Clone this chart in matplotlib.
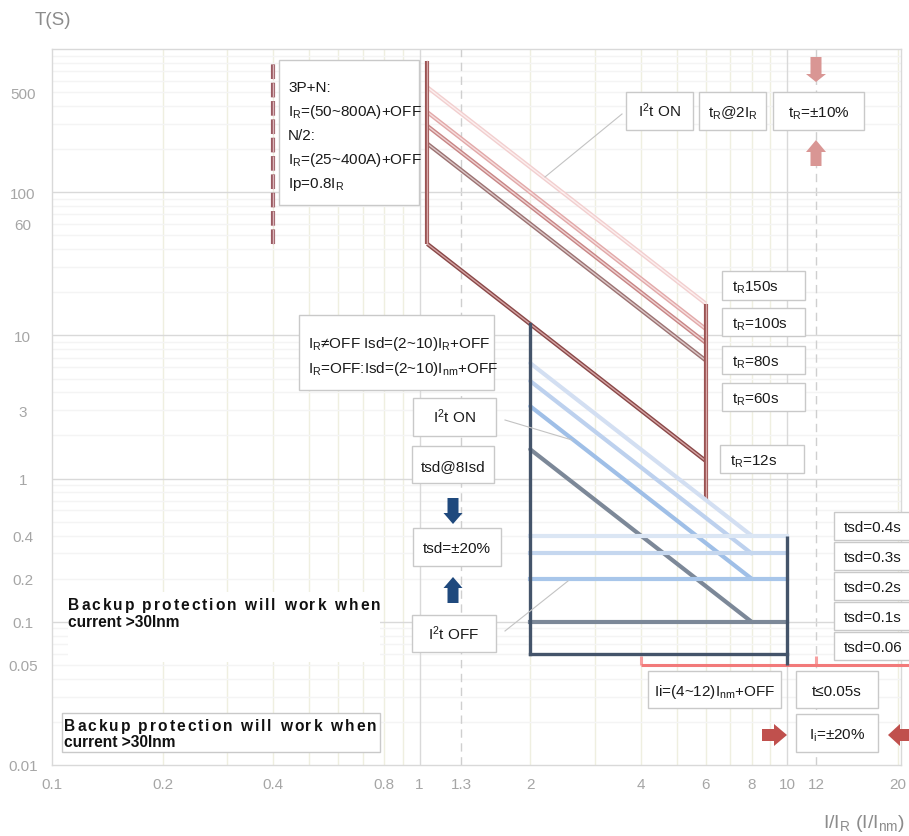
import numpy as np
import matplotlib
matplotlib.use('Agg')
import matplotlib.pyplot as plt
from matplotlib.patches import Rectangle, Polygon
from matplotlib.lines import Line2D
from matplotlib import font_manager, ft2font
from matplotlib.font_manager import FontProperties

plt.rcParams['font.family'] = ['Liberation Sans', 'DejaVu Sans']
plt.rcParams['mathtext.default'] = 'regular'

# ---------------- data ----------------
x_ticks = [0.1, 0.2, 0.4, 0.8, 1, 1.3, 2, 4, 6, 8, 10, 12, 20]
x_tick_labels = ['0.1', '0.2', '0.4', '0.8', '1', '1.3', '2', '4', '6', '8', '10', '12', '20']
y_ticks = [0.01, 0.05, 0.1, 0.2, 0.4, 1, 3, 10, 60, 100, 500]
y_tick_labels = ['0.01', '0.05', '0.1', '0.2', '0.4', '1', '3', '10', '60', '100', '500']

# long-time (I2t) curves: straight in log-log from x=1.05 to x=6
lt_names = ['150s', '100s', '80s', '60s', '12s']
lt_x = [1.05, 6]
lt_t_start = [540, 362, 290, 218, 43.5]
lt_t_end = [16.7, 11.1, 8.9, 6.7, 1.33]
lt_vert1_x = 1.05
lt_vert1_t = [43.5, 820]
lt_vert2_x = 6
lt_vert2_t = [0.71, 16.7]
neutral_x = 0.4
neutral_t = [43.5, 820]

# short-time curves
sd_tsd = [0.4, 0.3, 0.2, 0.1, 0.06]
sd_diag_x = [2, 8]
sd_diag_t_start = [6.4, 4.8, 3.2, 1.6]
sd_flat_x = [2, 10]
sd_left_x = 2
sd_left_t = [0.06, 12]
sd_right_x = 10
sd_right_t = [0.05, 0.4]

# instantaneous
inst_t = 0.05
inst_x = [4, 21.4]
inst_tick_x = [4, 12]
inst_tick_t = [0.05, 0.058]

# ---------------- figure ----------------
W, H = 909, 837
fig = plt.figure(figsize=(W / 100, H / 100), dpi=100)
ax = fig.add_axes([52 / W, 1 - 766 / H, (901 - 52) / W, (766 - 50) / H])
ax.set_xscale('log')
ax.set_yscale('log')
ax.set_xlim(0.1, 20.4)
ax.set_ylim(0.01, 1000)

# grid (manual)
for dec in [0.1, 1, 10]:
    for m in range(2, 10):
        v = dec * m
        if v <= 20.4:
            ax.axvline(v, color='#efefe0', lw=1, zorder=0)
for v in [1, 10]:
    ax.axvline(v, color='#d9d9d9', lw=1, zorder=0.1)
for v in [1.3, 12]:
    ax.axvline(v, color='#cfcfcf', lw=1, ls=(0, (6, 4)), zorder=0.1)
for dec in [0.01, 0.1, 1, 10, 100]:
    for m in range(2, 10):
        ax.axhline(dec * m, color='#f4f4f4', lw=1, zorder=0)
for v in [0.1, 1, 10, 100]:
    ax.axhline(v, color='#d9d9d9', lw=1, zorder=0.1)

for s in ax.spines.values():
    s.set_color('#d9d9d9')
    s.set_linewidth(1)

ax.set_xticks(x_ticks)
ax.set_xticklabels(x_tick_labels)
ax.set_yticks(y_ticks)
ax.set_yticklabels(y_tick_labels)
ax.minorticks_off()
ax.tick_params(axis='both', length=0, labelcolor='#a6a6a6', labelsize=11)
ax.tick_params(axis='x', pad=9)
ax.tick_params(axis='y', pad=21)
for t in ax.get_yticklabels():
    t.set_ha('center')

# long-time curves (double-line style)
lt_outer = ['#f2cfcf', '#e2a9a9', '#c88585', '#9c7272', '#8a4848']
lt_inner = ['#fcefef', '#f6dfdf', '#eed2d2', '#dcc8c8', '#d4a4a4']
for i in range(len(lt_names)):
    ax.plot(lt_x, [lt_t_start[i], lt_t_end[i]], color=lt_outer[i], lw=3.0, zorder=3, solid_capstyle='butt')
    ax.plot(lt_x, [lt_t_start[i], lt_t_end[i]], color=lt_inner[i], lw=1.0, zorder=3.1)
for xv, tv in [(lt_vert1_x, lt_vert1_t), (lt_vert2_x, lt_vert2_t)]:
    ax.plot([xv, xv], tv, color='#9a5252', lw=3.0, zorder=3.2, solid_capstyle='butt')
    ax.plot([xv, xv], tv, color='#d8a8a8', lw=1.0, zorder=3.3)
ax.plot([neutral_x, neutral_x], neutral_t, color='#9a5a62', lw=3.0, ls=(0, (3.5, 0.9)), zorder=3.2)
ax.plot([neutral_x, neutral_x], neutral_t, color='#dcb8bc', lw=1.0, ls=(0, (10.5, 2.7)), zorder=3.3)

# short-time curves
sd_flat_col = ['#dbe6f4', '#c5d7ef', '#a8c6ea', '#7c8898', '#44546a']
sd_diag_col = ['#d3dff2', '#bdd1ee', '#9fbfe7', '#7c8898']
for i in range(4):
    ax.plot(sd_diag_x, [sd_diag_t_start[i], sd_tsd[i]], color=sd_diag_col[i], lw=3.0, zorder=4,
            solid_capstyle='round')
for i in range(5):
    ax.plot(sd_flat_x, [sd_tsd[i], sd_tsd[i]], color=sd_flat_col[i], lw=3.0 if i < 4 else 2.4, zorder=4.1)
ax.plot([sd_left_x, sd_left_x], sd_left_t, color='#44546a', lw=2.4, zorder=4.2, solid_capstyle='projecting')
ax.plot([sd_right_x, sd_right_x], sd_right_t, color='#44546a', lw=2.4, zorder=4.2, solid_capstyle='butt')

# instantaneous
ax.plot(inst_x, [inst_t, inst_t], color='#f27a7a', lw=2.2, zorder=4.0, clip_on=False, solid_capstyle='butt')
for xv in inst_tick_x:
    ax.plot([xv, xv], inst_tick_t, color='#f7a0a0', lw=2.2, zorder=3.9, solid_capstyle='butt')


# ---------------- annotations (figure pixel layout) ----------------
def fx(px):
    return px / W


def fy(py):
    return 1 - py / H


def fig_box(x0, y0, x1, y1, ec='#c9c9c9', fc='white', lw=1.0):
    r = Rectangle((fx(x0), fy(y1)), (x1 - x0) / W, (y1 - y0) / H, transform=fig.transFigure,
                  fc=fc, ec=ec, lw=lw, zorder=5)
    fig.add_artist(r)


def fig_text(x, y, s, ha='left', va='baseline', size=11, color='#1a1a1a', **kw):
    fig.text(fx(x), fy(y), s, ha=ha, va=va, fontsize=size, color=color, zorder=6, **kw)


def boxed(x0, y0, x1, y1, s, ha='center', pad=10):
    fig_box(x0, y0, x1, y1)
    yb = (y0 + y1) / 2 + 5.5
    if ha == 'center':
        fig_text((x0 + x1) / 2, yb, s, ha='center')
    else:
        fig_text(x0 + pad, yb, s, ha='left')


def fig_line(pts, color='#c3c3c3', lw=0.8):
    l = Line2D([fx(p[0]) for p in pts], [fy(p[1]) for p in pts], transform=fig.transFigure,
               color=color, lw=lw, zorder=4.5)
    fig.add_artist(l)


def arrow_v(cx, y_tail, y_base, y_tip, sw, hw, color):
    pts = [(cx - sw / 2, y_tail), (cx + sw / 2, y_tail), (cx + sw / 2, y_base), (cx + hw / 2, y_base),
           (cx, y_tip), (cx - hw / 2, y_base), (cx - sw / 2, y_base)]
    fig.add_artist(Polygon([(fx(a), fy(b)) for a, b in pts], closed=True, transform=fig.transFigure,
                           fc=color, ec='none', zorder=5))


def arrow_h(cy, x_tail, x_base, x_tip, sw, hw, color):
    pts = [(x_tail, cy - sw / 2), (x_tail, cy + sw / 2), (x_base, cy + sw / 2), (x_base, cy + hw / 2),
           (x_tip, cy), (x_base, cy - hw / 2), (x_base, cy - sw / 2)]
    fig.add_artist(Polygon([(fx(a), fy(b)) for a, b in pts], closed=True, transform=fig.transFigure,
                           fc=color, ec='none', zorder=5))


# connector lines
fig_line([(622, 115), (545, 178)])
fig_line([(505, 421), (572, 441)])
fig_line([(505, 632), (568, 582)])

# top-left settings box
fig_box(279, 61, 419, 206)
for yb, s in zip([92, 116, 140, 164, 188],
                 ['3P+N:', 'I$_R$=(50~800A)+OFF', 'N/2:', 'I$_R$=(25~400A)+OFF', 'Ip=0.8I$_R$']):
    fig_text(288, yb, s)

boxed(626, 93, 693, 131, 'I$^2$t ON')
boxed(699, 93, 766, 131, 't$_R$@2I$_R$')
boxed(773, 93, 864, 131, 't$_R$=±10%')

boxed(722, 272, 805, 301, 't$_R$150s', ha='left')
boxed(722, 309, 805, 337, 't$_R$=100s', ha='left')
boxed(722, 347, 805, 375, 't$_R$=80s', ha='left')
boxed(722, 384, 805, 412, 't$_R$=60s', ha='left')
boxed(720, 446, 804, 474, 't$_R$=12s', ha='left')

fig_box(299, 316, 494, 391)
fig_text(308, 348, 'I$_R$≠OFF Isd=(2~10)I$_R$+OFF')
fig_text(308, 373, 'I$_R$=OFF:Isd=(2~10)I$_{nm}$+OFF')

boxed(413, 399, 496, 437, 'I$^2$t ON')
boxed(412, 447, 494, 484, 'tsd@8Isd')
boxed(413, 529, 501, 567, 'tsd=±20%')
boxed(412, 616, 496, 653, 'I$^2$t OFF')

for (y0, y1), s in zip([(513, 541), (543, 571), (573, 601), (603, 631), (633, 661)],
                       ['tsd=0.4s', 'tsd=0.3s', 'tsd=0.2s', 'tsd=0.1s', 'tsd=0.06']):
    boxed(834, y0, 915, y1, s, ha='left')

boxed(648, 672, 781, 709, 'Ii=(4~12)I$_{nm}$+OFF')
boxed(796, 672, 878, 709, 't≤0.05s')
boxed(796, 715, 878, 753, 'I$_i$=±20%')

# arrows
arrow_v(816, 58, 75, 83, 11, 20, '#d99694')
arrow_v(816, 167, 153, 141, 11, 20, '#d99694')
arrow_v(453, 499, 514, 525, 11, 19, '#1f497d')
arrow_v(453, 604, 589, 578, 11, 19, '#1f497d')
arrow_h(736, 762, 774, 787, 12, 22, '#c0504d')
arrow_h(736, 915, 900, 888, 12, 22, '#c0504d')

# backup protection texts
bold_fp = FontProperties(family='Liberation Sans', weight='bold', size=11.2)
_ft = ft2font.FT2Font(font_manager.findfont(bold_fp))
_ft.set_size(11.2, 100)


def spaced_text(x0, x1, y, s):
    advs = [_ft.load_char(ord(c)).linearHoriAdvance / 65536 for c in s]
    extra = (x1 - x0 - sum(advs)) / (len(s) - 1)
    x = x0
    for c, a in zip(s, advs):
        if c != ' ':
            fig.text(fx(x), fy(y), c, fontproperties=bold_fp, ha='left', va='baseline', color='#111111',
                     zorder=6)
        x += a + extra


fig_box(68, 593, 380, 663, ec='none')
spaced_text(68, 380, 610, 'Backup protection will work when')
fig.text(fx(68), fy(627), 'current >30Inm', fontproperties=bold_fp, ha='left', va='baseline',
         color='#111111', zorder=6)

fig_box(62, 714, 380, 753)
spaced_text(64, 376, 731, 'Backup protection will work when')
fig.text(fx(64), fy(747), 'current >30Inm', fontproperties=bold_fp, ha='left', va='baseline',
         color='#111111', zorder=6)

# axis titles
fig_text(35, 25, 'T(S)', size=13.5, color='#8c8c8c')
fig_text(905, 828, 'I/I$_R$ (I/I$_{nm}$)', ha='right', size=14, color='#8c8c8c')

fig.savefig('out.png', dpi=100)
